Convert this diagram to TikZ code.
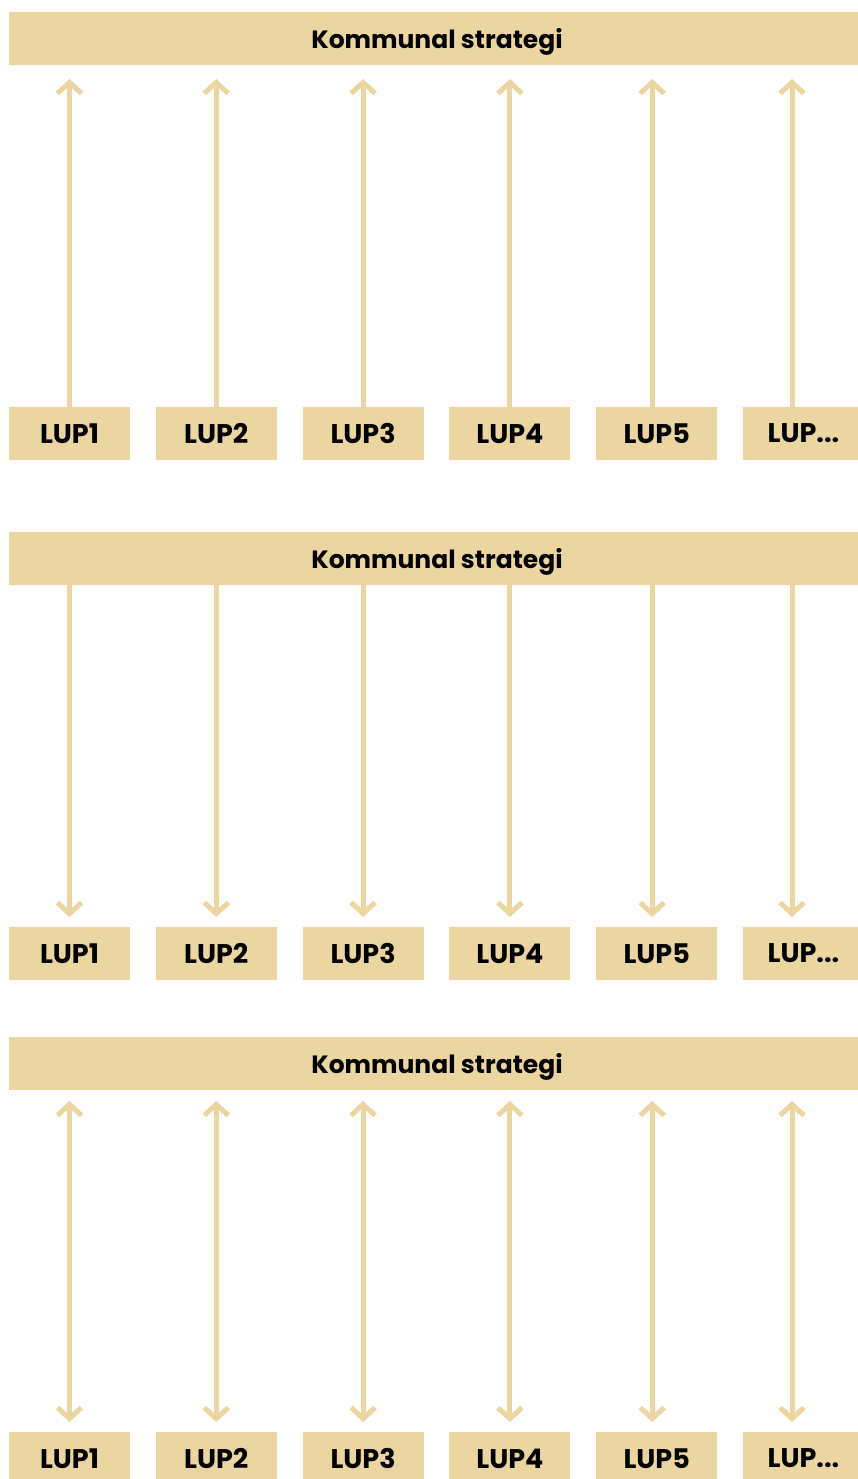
\documentclass[tikz,border=0pt]{standalone}
\usepackage{fontspec}
\setmainfont{Poppins}
\usetikzlibrary{positioning,arrows.meta}
\definecolor{sand}{HTML}{EBD6A1}
\begin{document}
\begin{tikzpicture}[x=1pt,y=-1pt,>={Straight Barb[length=11pt,width=24pt]}]
    \tikzstyle{strategy} = [fill=sand, shape=rectangle, anchor=north west, minimum width=856pt, minimum height=53pt, inner sep=0pt, outer sep=0pt, text depth=0pt, font=\fontsize{25}{30}\selectfont\bfseries]
    \tikzstyle{lup} = [fill=sand, shape=rectangle, minimum width=121pt, minimum height=53pt, inner sep=0pt, outer sep=0pt, text depth=0pt, node distance=25.8pt, font=\fontsize{27}{32}\selectfont\bfseries]
    \tikzstyle{link} = [draw=sand, line width=5pt]
    \useasboundingbox (0,0) rectangle (858,1479);
    \clip (0,0) rectangle (858,1479);
    %Upper panel: plans report to the strategy
    \node [strategy] (strat_1) at (9,12) {Kommunal strategi};
    \node [lup, anchor=north west] (lup_1_1) at (9,407) {LUP1};
    \node [lup, right=of lup_1_1] (lup_1_2) {LUP2};
    \node [lup, right=of lup_1_2] (lup_1_3) {LUP3};
    \node [lup, right=of lup_1_3] (lup_1_4) {LUP4};
    \node [lup, right=of lup_1_4] (lup_1_5) {LUP5};
    \node [lup, right=of lup_1_5] (lup_1_6) {LUP...};

    %Middle panel: strategy steers the plans
    \node [strategy] (strat_2) at (9,532) {Kommunal strategi};
    \node [lup, anchor=north west] (lup_2_1) at (9,927) {LUP1};
    \node [lup, right=of lup_2_1] (lup_2_2) {LUP2};
    \node [lup, right=of lup_2_2] (lup_2_3) {LUP3};
    \node [lup, right=of lup_2_3] (lup_2_4) {LUP4};
    \node [lup, right=of lup_2_4] (lup_2_5) {LUP5};
    \node [lup, right=of lup_2_5] (lup_2_6) {LUP...};

    %Lower panel: both directions
    \node [strategy] (strat_3) at (9,1037) {Kommunal strategi};
    \node [lup, anchor=north west] (lup_3_1) at (9,1432) {LUP1};
    \node [lup, right=of lup_3_1] (lup_3_2) {LUP2};
    \node [lup, right=of lup_3_2] (lup_3_3) {LUP3};
    \node [lup, right=of lup_3_3] (lup_3_4) {LUP4};
    \node [lup, right=of lup_3_4] (lup_3_5) {LUP5};
    \node [lup, right=of lup_3_5] (lup_3_6) {LUP...};
    %Connecting Blocks
    \begin{scope}[link]
        \draw[->, shorten >=14pt] (lup_1_1.north) -- (lup_1_1.north |- strat_1.south);
        \draw[->, shorten >=14pt] (lup_1_2.north) -- (lup_1_2.north |- strat_1.south);
        \draw[->, shorten >=14pt] (lup_1_3.north) -- (lup_1_3.north |- strat_1.south);
        \draw[->, shorten >=14pt] (lup_1_4.north) -- (lup_1_4.north |- strat_1.south);
        \draw[->, shorten >=14pt] ([xshift=-4.5pt]lup_1_5.north) -- ([xshift=-4.5pt]lup_1_5.north |- strat_1.south);
        \draw[->, shorten >=14pt] ([xshift=-11.5pt]lup_1_6.north) -- ([xshift=-11.5pt]lup_1_6.north |- strat_1.south);

        \draw[->, shorten >=10pt] (lup_2_1.north |- strat_2.south) -- (lup_2_1.north);
        \draw[->, shorten >=10pt] (lup_2_2.north |- strat_2.south) -- (lup_2_2.north);
        \draw[->, shorten >=10pt] (lup_2_3.north |- strat_2.south) -- (lup_2_3.north);
        \draw[->, shorten >=10pt] (lup_2_4.north |- strat_2.south) -- (lup_2_4.north);
        \draw[->, shorten >=10pt] ([xshift=-4.5pt]lup_2_5.north |- strat_2.south) -- ([xshift=-4.5pt]lup_2_5.north);
        \draw[->, shorten >=10pt] ([xshift=-11.5pt]lup_2_6.north |- strat_2.south) -- ([xshift=-11.5pt]lup_2_6.north);

        \draw[<->, shorten <=11pt, shorten >=10pt] (lup_3_1.north |- strat_3.south) -- (lup_3_1.north);
        \draw[<->, shorten <=11pt, shorten >=10pt] (lup_3_2.north |- strat_3.south) -- (lup_3_2.north);
        \draw[<->, shorten <=11pt, shorten >=10pt] (lup_3_3.north |- strat_3.south) -- (lup_3_3.north);
        \draw[<->, shorten <=11pt, shorten >=10pt] (lup_3_4.north |- strat_3.south) -- (lup_3_4.north);
        \draw[<->, shorten <=11pt, shorten >=10pt] ([xshift=-4.5pt]lup_3_5.north |- strat_3.south) -- ([xshift=-4.5pt]lup_3_5.north);
        \draw[<->, shorten <=11pt, shorten >=10pt] ([xshift=-11.5pt]lup_3_6.north |- strat_3.south) -- ([xshift=-11.5pt]lup_3_6.north);
    \end{scope}
\end{tikzpicture}
\end{document}
